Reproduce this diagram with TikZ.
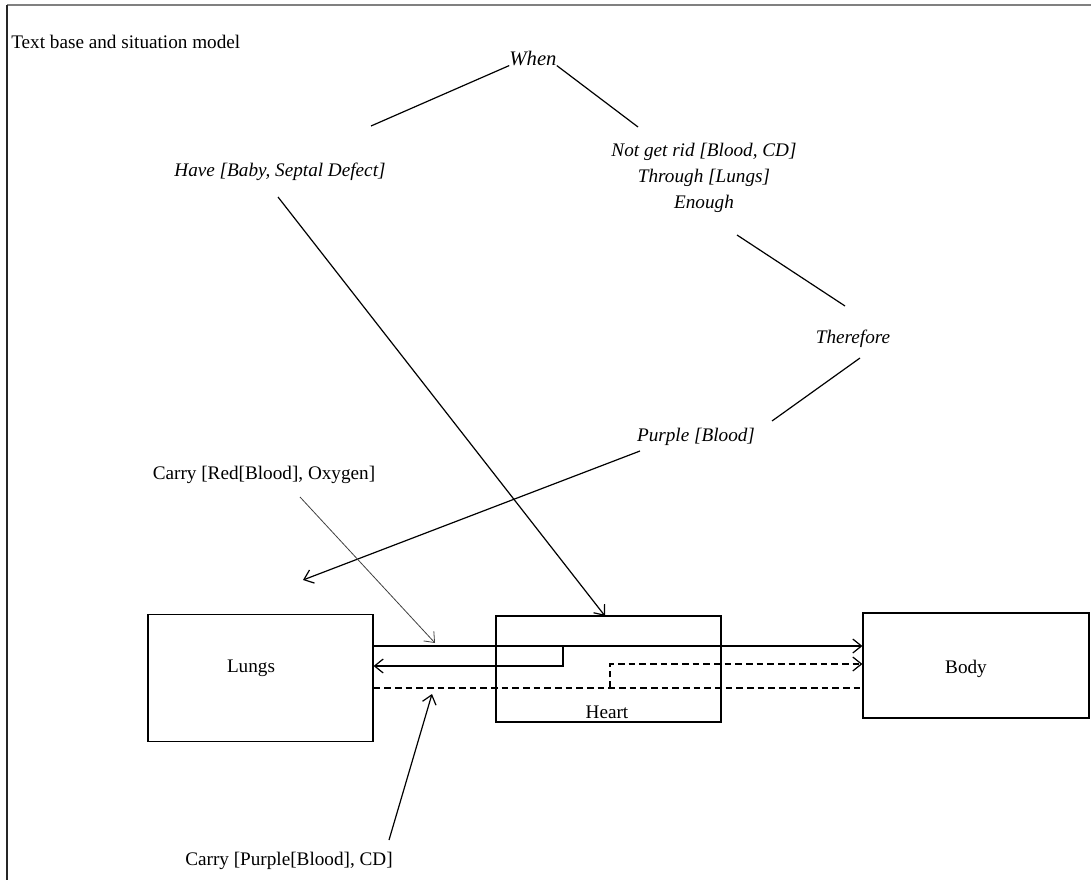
\documentclass[tikz,border=0pt]{standalone}
\usepackage{fontspec}
\setmainfont{Liberation Serif}
\usetikzlibrary{arrows.meta, positioning}

\begin{document}
\begin{tikzpicture}[x=0.75pt, y=-0.75pt,
    caption/.style={font=\fontsize{14.4}{17}\selectfont, inner sep=0pt},
    claim/.style={font=\fontsize{14.4}{19.5}\selectfont\itshape, inner sep=0pt, align=center},
    organ/.style={draw, line width=0.9pt, inner sep=0pt, minimum width=168.75pt},
    link/.style={line width=0.9pt},
    flow/.style={line width=0.9pt, -{Straight Barb[length=6.5pt, width=10.5pt]}},
    backflow/.style={flow, dash pattern=on 5pt off 3pt}
]
    \useasboundingbox (0,0) rectangle (1091,880);

    % Frame
    \draw[gray, line width=1.5pt] (7,5) -- (1091,5);
    \draw[black!85, line width=1.5pt] (7,5) -- (7,880);

    % Title
    \node[caption, anchor=west] (title) at (11,42) {Text base and situation model};

    % Propositions
    \node[claim, font=\fontsize{15.5}{18}\selectfont\itshape] (when) at (533,58) {When};
    \node[claim] (have) at (280,172) {Have [Baby, Septal Defect]};
    \node[claim] (notrid) at (704,178) {Not get rid [Blood, CD]\\Through [Lungs]\\Enough};
    \node[claim] (therefore) at (853,339) {Therefore};
    \node[claim] (purple) at (696,437) {Purple [Blood]};

    % Organs
    \node[organ, minimum height=95.25pt] (lungs) at (260.5,678) {};
    \node[organ, minimum height=79.5pt] (heart) at (608.5,669) {};
    \node[organ, minimum height=78.75pt, minimum width=169.5pt] (body) at (976,665.5) {};
    \node[caption] (lungslbl) at (251,668) {Lungs};
    \node[caption] (heartlbl) at (607,712) {Heart};
    \node[caption] (bodylbl) at (966,669) {Body};

    % Carry labels
    \node[caption] (carryred) at (264,475) {Carry [Red[Blood], Oxygen]};
    \node[caption] (carrypurple) at (289,861) {Carry [Purple[Blood], CD]};

    % Free ends
    \coordinate (haveup) at (371,126);
    \coordinate (notridup) at (638,127);
    \coordinate (notriddown) at (737,235);
    \coordinate (thereup) at (845,306);
    \coordinate (theredown) at (860,358);
    \coordinate (purpleup) at (772,421);
    \coordinate (purpledown) at (640,451);
    \coordinate (lungsin) at (303,580);
    \coordinate (havedown) at (278,197);
    \coordinate (redfrom) at (300,497);
    \coordinate (redto) at (435,643);
    \coordinate (purplefrom) at (389,840);
    \coordinate (purpleto) at (432,694);

    % Text base links
    \draw[link] (haveup) -- (when.south west);
    \draw[link] (when.south east) -- (notridup);
    \draw[link] (notriddown) -- (thereup);
    \draw[link] (theredown) -- (purpleup);

    % Situation model arrows
    \draw[flow] (purpledown) -- (lungsin);
    \draw[flow] (havedown) -- (605,616);
    \draw[flow, line width=0.6pt, black!75] (redfrom) -- (redto);
    \draw[flow] (purplefrom) -- (purpleto);

    % Blood routes
    \coordinate (lvlred) at (0,646);
    \coordinate (lvlback) at (0,666);
    \coordinate (lvlmix) at (0,664);
    \coordinate (lvlpurple) at (0,688);
    \coordinate (splitred) at (563,646);
    \coordinate (splitpurple) at (610,688);

    \draw[flow] (lungs.east |- lvlred) -- (body.west |- lvlred);
    \draw[flow] (splitred) -- (splitred |- lvlback) -- (lungs.east |- lvlback);
    \draw[link, dash pattern=on 5pt off 3pt] (lungs.east |- lvlpurple) -- (body.west |- lvlpurple);
    \draw[backflow] (splitpurple) -- (splitpurple |- lvlmix) -- (body.west |- lvlmix);
\end{tikzpicture}
\end{document}
